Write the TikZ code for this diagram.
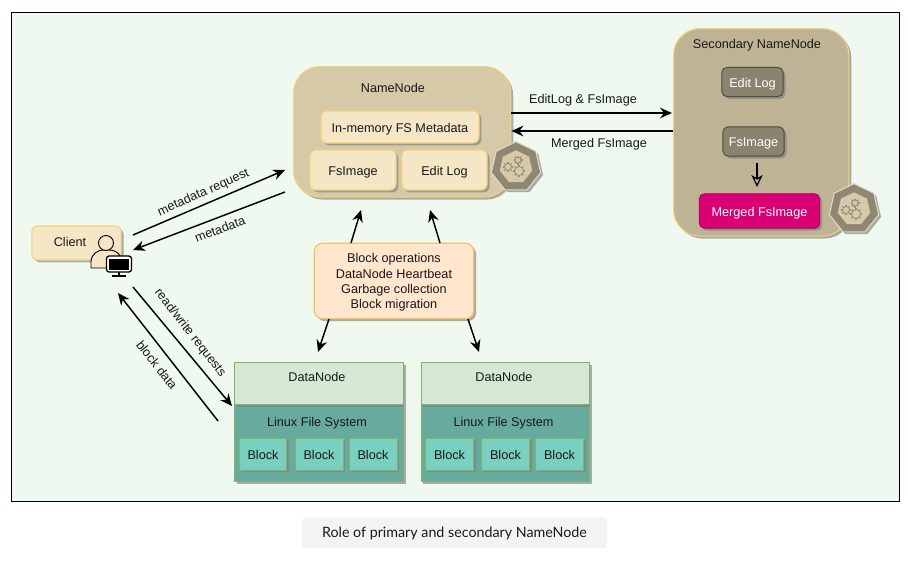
\documentclass[tikz,border=0pt]{standalone}
\usepackage{fontspec}
\setmainfont{Liberation Sans}
\newfontfamily\capfont{Lato}
\usetikzlibrary{arrows.meta,shadows,shapes.geometric,calc}
\definecolor{bgc}{HTML}{F0F9F0}
\definecolor{nnc}{HTML}{D5C9A8}
\definecolor{snc}{HTML}{BFB395}
\definecolor{ylc}{HTML}{F5E6C5}
\definecolor{ybd}{HTML}{F2D27A}
\definecolor{dkc}{HTML}{8B8370}
\definecolor{dkb}{HTML}{4F4B3F}
\definecolor{mgc}{HTML}{D80073}
\definecolor{orc}{HTML}{FFE6CC}
\definecolor{dnc}{HTML}{D5E8D4}
\definecolor{grb}{HTML}{82B366}
\definecolor{fsc}{HTML}{67AB9F}
\definecolor{blc}{HTML}{79CFC0}
\definecolor{capc}{HTML}{F3F3F3}
\definecolor{shc}{HTML}{808080}
\tikzset{
  x=0.75pt,y=-0.75pt,
  every node/.style={font=\fontsize{9.5pt}{11.5pt}\selectfont,text=black!90,inner sep=0pt,align=center},
  tx/.style={text height=8pt,text depth=0pt},
  sh/.style={drop shadow={shadow xshift=1.8pt,shadow yshift=-1.8pt,fill=shc,opacity=0.65}},
  box/.style={draw=ybd,line width=0.8pt,rounded corners=4.5pt,fill=ylc,tx,sh},
  bignode/.style={draw=ybd,line width=0.8pt,rounded corners=20pt,sh},
  dkbox/.style={draw=dkb,line width=0.7pt,fill=dkc,rounded corners=4pt,text=white,tx,sh},
  dnbox/.style={draw=grb,line width=0.7pt,fill=dnc,minimum width=126.5pt,minimum height=31.5pt,sh},
  fsbox/.style={draw=grb,line width=0.7pt,fill=fsc,minimum width=126.5pt,minimum height=57.5pt,sh},
  blbox/.style={draw=grb,line width=0.7pt,fill=blc,minimum height=24pt,tx,sh},
  arr/.style={draw=black,line width=1.1pt,-{Stealth[length=9pt,width=8pt,inset=3pt]}},
  lbl/.style={font=\fontsize{9.5pt}{11pt}\selectfont},
  septa/.style={regular polygon,regular polygon sides=7,draw=nnc!70!white,fill=dkc!95!nnc,line width=0.8pt,sh},
  septb/.style={regular polygon,regular polygon sides=7,fill=nnc,draw=none},
  gear/.style={draw=dkc!85!nnc,fill=none},
}
\newcommand{\gearat}[3]{%
  \draw[gear,line width=0.6pt] (#1,#2) circle[radius=#3];
  \foreach \a in {0,45,...,315}{\draw[gear,line width=0.9pt] ($(#1,#2)+(\a:#3)$) -- ($(#1,#2)+(\a:#3+1.5)$);}
}
\begin{document}
\begin{tikzpicture}
\useasboundingbox (0,0) rectangle (908,564);
\node[draw=black,fill=bgc,line width=0.7pt,minimum width=666pt,minimum height=366.75pt,anchor=north west] (frame) at (11,12) {};

% NameNode
\node[bignode,fill=nnc,minimum width=163pt,minimum height=98pt,anchor=north west] (nn) at (293,66) {};
\node (nnl) at (393,88) {NameNode};
\node[box,minimum width=118.5pt,minimum height=24pt] (mem) at (400,127) {In-memory FS Metadata};
\node[box,minimum width=64.5pt,minimum height=30pt] (fs1) at (353,170) {FsImage};
\node[box,minimum width=64pt,minimum height=30pt] (el1) at (444.5,170) {Edit Log};
\node[septa,minimum size=38pt] (h1) at (516,167) {};
\node[septb,minimum size=25pt] (h1i) at (516,167) {};
\gearat{508}{167}{3.5}
\gearat{519}{171}{4.5}
\gearat{518}{160}{3}

% Secondary
\node[bignode,fill=snc,minimum width=131.5pt,minimum height=155.75pt,anchor=north west] (sn) at (673,28) {};
\node (snl) at (757,45) {Secondary NameNode};
\node[dkbox,minimum width=46pt,minimum height=22pt] (el2) at (752.5,82) {Edit Log};
\node[dkbox,minimum width=46pt,minimum height=22pt] (fs2) at (753.5,141.5) {FsImage};
\node[draw=mgc!80!black,line width=0.6pt,fill=mgc,rounded corners=4pt,text=white,tx,minimum width=90.5pt,minimum height=26pt,sh] (mg) at (759.5,211) {Merged FsImage};
\node[septa,minimum size=38pt] (h2) at (854,209) {};
\node[septb,minimum size=25pt] (h2i) at (854,209) {};
\gearat{846}{210}{3.5}
\gearat{856}{214}{4.5}
\gearat{855}{203}{3}

% Client
\node[box,minimum width=67pt,minimum height=25.5pt] (cl) at (76.5,243) {};
\node (cll) at (70,242) {Client};
\draw[draw=black,line width=0.7pt,fill=ylc] (91,268) -- (91,262) .. controls (91,254) and (98,250) .. (103,250) -- (109,250) .. controls (114,250) and (118,252) .. (120,256) -- (120,268) -- cycle;
\draw[draw=black,line width=0.7pt,fill=ylc] (106,243) circle[radius=7.5];
\draw[draw=black,line width=1pt,fill=white,rounded corners=2pt] (106.5,256) rectangle (131.5,272);
\fill[black] (109,258.5) rectangle (129,270);
\fill[black] (118,272) rectangle (120,275);
\fill[black] (112,275) rectangle (126,276.5);

% Block ops
\node[draw=ybd!80!orange,line width=0.9pt,fill=orc,rounded corners=6pt,minimum width=119.5pt,minimum height=56.5pt,sh] (ops) at (394,281) {};
\node (opsl) at (394,282.5) {Block operations\\DataNode Heartbeat\\Garbage collection\\Block migration};

% DataNode 1
\node[fsbox,anchor=north west] (fsa) at (234,404) {};
\node[dnbox,anchor=north west] (dna) at (234,362) {};
\node (dnal) at (317,377) {DataNode};
\node (fsal) at (317,423) {Linux File System};
\node[blbox,minimum width=35.5pt] (ba1) at (263,454) {Block};
\node[blbox,minimum width=36pt] (ba2) at (319,454) {Block};
\node[blbox,minimum width=36pt] (ba3) at (373,454) {Block};

% DataNode 2
\node[fsbox,anchor=north west] (fsb) at (420.5,404) {};
\node[dnbox,anchor=north west] (dnb) at (420.5,362) {};
\node (dnbl) at (504,377) {DataNode};
\node (fsbl) at (503.5,423) {Linux File System};
\node[blbox,minimum width=35.5pt] (bb1) at (449.5,454) {Block};
\node[blbox,minimum width=36pt] (bb2) at (505.5,454) {Block};
\node[blbox,minimum width=36pt] (bb3) at (559.5,454) {Block};

% free ends
\coordinate (a1) at (133,235); \coordinate (a2) at (285,170);
\coordinate (b1) at (285,192); \coordinate (b2) at (133,250);
\coordinate (c1) at (133,287); \coordinate (c2) at (232,406);
\coordinate (d1) at (218,421); \coordinate (d2) at (118,293);
\coordinate (e1) at (351,243); \coordinate (e2) at (361,210);
\coordinate (f1) at (440,243); \coordinate (f2) at (430,210);
\coordinate (g1) at (329,319); \coordinate (g2) at (318,352);
\coordinate (h1a) at (468,319); \coordinate (h2a) at (479,352);
\coordinate (eA) at (600,113); \coordinate (eB) at (600,131);
\coordinate (m1) at (757,163); \coordinate (m2) at (757,187);

\draw[arr] (a1) -- (a2);
\draw[arr] (b1) -- (b2);
\draw[arr] (c1) -- (c2);
\draw[arr] (d1) -- (d2);
\draw[arr] (e1) -- (e2);
\draw[arr] (f1) -- (f2);
\draw[arr] (g1) -- (g2);
\draw[arr] (h1a) -- (h2a);
\draw[arr] (nn.east |- eA) -- ($(sn.west |- eA)+(-1,0)$);
\draw[arr] (sn.west |- eB) -- (nn.east |- eB);
\draw[line width=0.9pt,-{Stealth[length=9pt,width=8.5pt,open,inset=2.5pt]}] (m1) -- (m2);

% labels
\node[lbl,rotate=24] (t1) at (203.5,193) {metadata request};
\node[lbl,rotate=21] (t2) at (220,229) {metadata};
\node[lbl,rotate=-52] (t3) at (190,333) {read/write requests};
\node[lbl,rotate=-52] (t4) at (157,365) {block data};
\node[lbl] (t5) at (583,100) {EditLog \& FsImage};
\node[lbl] (t6) at (599,144) {Merged FsImage};

% caption
\node[fill=capc,rounded corners=3pt,minimum width=229pt,minimum height=23pt] (capb) at (454.5,533) {};
\node[font=\capfont\fontsize{10.7pt}{12pt}\selectfont] (cap) at (454.5,533.5) {Role of primary and secondary NameNode};
\end{tikzpicture}
\end{document}
